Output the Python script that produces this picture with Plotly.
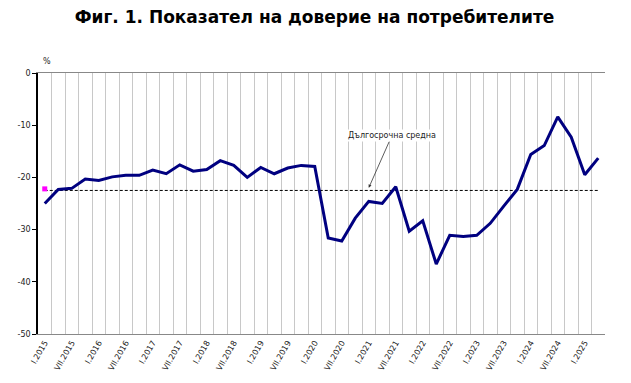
import plotly.graph_objects as go

months = ["I", "IV", "VII", "X"]
years = list(range(2015, 2026))
categories = [f"{m}.{y}" for y in years for m in months][:42]

values = [-25.0, -22.3, -22.1, -20.3, -20.6, -19.9, -19.6, -19.6, -18.6, -19.3,
          -17.6, -18.8, -18.5, -16.8, -17.7, -20.0, -18.1, -19.3, -18.2, -17.7,
          -17.9, -31.6, -32.2, -27.8, -24.6, -25.0, -21.8, -30.3, -28.3, -36.6,
          -31.1, -31.3, -31.1, -28.8, -25.5, -22.3, -15.6, -13.9, -8.4, -12.3,
          -19.5, -16.3]

long_term_avg = -22.5
avg_marker_value = -22.2

tick_text = [c if c.split(".")[0] in ("I", "VII") else "" for c in categories]
y_ticks = [0, -10, -20, -30, -40, -50]
y_tick_text = ["0", "-10", "-20", "-30", "-40", "-50"]

fig = go.Figure()

fig.add_trace(go.Scatter(
    x=categories, y=[long_term_avg] * len(categories), mode="lines",
    line=dict(color="black", width=1, dash="3px,2px"), hoverinfo="skip",
    showlegend=False))

fig.add_trace(go.Scatter(
    x=categories, y=values, mode="lines",
    line=dict(color="#000080", width=3), showlegend=False))

fig.add_trace(go.Scatter(
    x=[categories[0]], y=[avg_marker_value], mode="markers",
    marker=dict(color="#ff00ff", size=5, symbol="square"), showlegend=False))

fig.update_layout(
    width=623, height=375,
    paper_bgcolor="white", plot_bgcolor="white",
    margin=dict(l=30, r=26, t=65, b=49, autoexpand=False),
    font=dict(family="DejaVu Sans", size=8, color="#222"),
    title=dict(text="<b>Фиг. 1. Показател на доверие на потребителите</b>",
               x=0.492, xanchor="center", xref="container", y=0.976, yanchor="middle",
               font=dict(family="DejaVu Sans", size=17, color="black")),
    xaxis=dict(type="category", categoryorder="array", categoryarray=categories,
               tickvals=categories, ticktext=tick_text, tickangle=-60,
               tickson="boundaries", showgrid=True, gridcolor="#c8c8c8", gridwidth=1,
               range=[-0.5, len(categories) - 0.5], automargin=False,
               showline=True, linecolor="#888", linewidth=1, mirror=True,
               ticks="", tickfont=dict(size=8, color="#222")),
    yaxis=dict(range=[-50, 0], tickvals=y_ticks, ticktext=y_tick_text,
               showgrid=False, zeroline=False, showline=True, linecolor="black",
               linewidth=1.5, ticks="outside", ticklen=4, tickcolor="black",
               automargin=False, tickfont=dict(size=8, color="#222")),
    annotations=[
        dict(x=categories[24], y=-22.0, xref="x", yref="y",
             text="Дългосрочна средна", showarrow=True, arrowhead=2,
             arrowsize=0.8, arrowwidth=0.8, arrowcolor="#333",
             ax=23, ay=-52, bgcolor="white", font=dict(size=8, color="#222")),
        dict(x=0.005, y=1.02, xref="paper", yref="paper", text="%",
             showarrow=False, xanchor="left", yanchor="bottom",
             font=dict(size=8, color="#222")),
    ],
)

fig.write_html("out.html")
